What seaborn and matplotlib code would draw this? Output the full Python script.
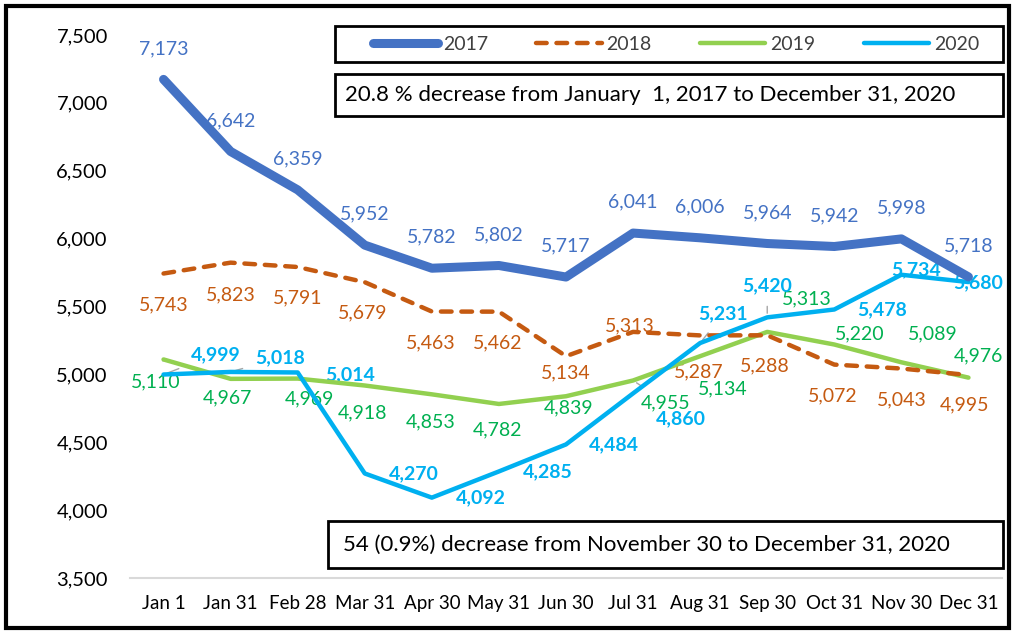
import matplotlib
matplotlib.use("Agg")
import matplotlib.pyplot as plt
from matplotlib.patches import Rectangle
import seaborn as sns

# dates on the x axis
dates = ["Jan 1", "Jan 31", "Feb 28", "Mar 31", "Apr 30", "May 31", "Jun 30",
         "Jul 31", "Aug 31", "Sep 30", "Oct 31", "Nov 30", "Dec 31"]

# values for each year
y2017 = [7173, 6642, 6359, 5952, 5782, 5802, 5717, 6041, 6006, 5964, 5942, 5998, 5718]
y2018 = [5743, 5823, 5791, 5679, 5463, 5462, 5134, 5313, 5287, 5288, 5072, 5043, 4995]
y2019 = [5110, 4967, 4969, 4918, 4853, 4782, 4839, 4955, 5134, 5313, 5220, 5089, 4976]
y2020 = [4999, 5018, 5014, 4270, 4092, 4285, 4484, 4860, 5231, 5420, 5478, 5734, 5680]

note_top = "20.8 % decrease from January  1, 2017 to December 31, 2020"
note_bottom = "54 (0.9%) decrease from November 30 to December 31, 2020"

# label offsets in pixels (dx, dy), dy positive = up
off2017 = [(0, 31)] * 13
off2018 = [(0, -31), (0, -32), (0, -31), (-2, -31), (-1, -31), (-1, -31), (0, -17),
           (-3, 6), (-1, -36), (-2, -31), (-2, -31), (0, -31), (-4, -30)]
off2019 = [(-8, -22), (-3, -19), (12, -20), (-2, -27), (-1, -28), (-1, -26), (3, -12),
           (33, -22), (23, -33), (40, 33), (25, 11), (31, 28), (10, 22)]
off2020 = [(52, 20), (49, 14), (52, -2), (49, 0), (49, 0), (49, 0), (48, 0),
           (48, -25), (23, 29), (0, 32), (48, 0), (15, 5), (10, -1)]
leader2019 = [0, 7]
leader2020 = [0, 1, 8, 9]

font = ["Lato", "DejaVu Sans"]
plt.rcParams["font.family"] = font

fig = plt.figure(figsize=(10.23, 6.33), dpi=100)
ax = fig.add_axes([130 / 1023, 1 - 578 / 633, 872 / 1023, 543 / 633])

xs = list(range(len(dates)))

sns.lineplot(x=xs, y=y2019, ax=ax, color="#92D050", linewidth=3.2, zorder=3)
sns.lineplot(x=xs, y=y2018, ax=ax, color="#C55A11", linewidth=3.2, zorder=4)
ax.lines[-1].set_dashes((2.4, 2.2))
ax.lines[-1].set_dash_capstyle("round")
sns.lineplot(x=xs, y=y2020, ax=ax, color="#00B0F0", linewidth=3.2, zorder=5)
sns.lineplot(x=xs, y=y2017, ax=ax, color="#4472C4", linewidth=6.5, zorder=6)
for ln in ax.lines:
    ln.set_solid_capstyle("round")


def put_labels(vals, offs, color, weight="normal", leaders=()):
    for i, (v, o) in enumerate(zip(vals, offs)):
        arrow = None
        if i in leaders:
            arrow = dict(arrowstyle="-", color="#A6A6A6", lw=1, shrinkA=7, shrinkB=3)
        ax.annotate(f"{v:,}", (i, v), xytext=o, textcoords="offset pixels",
                    ha="center", va="center", color=color, fontsize=14,
                    fontweight=weight, zorder=2, arrowprops=arrow)


put_labels(y2017, off2017, "#4472C4")
put_labels(y2018, off2018, "#C55A11")
put_labels(y2019, off2019, "#00B050", leaders=leader2019)
put_labels(y2020, off2020, "#00B0F0", weight="bold", leaders=leader2020)

ax.set_xlim(-0.5, 12.5)
ax.set_ylim(3500, 7500)
ax.set_yticks(range(3500, 7501, 500))
ax.set_yticklabels([f"{t:,}" for t in range(3500, 7501, 500)])
ax.set_xticks(xs)
ax.set_xticklabels(dates)
ax.tick_params(axis="both", length=0)
ax.tick_params(axis="y", pad=16, labelsize=14.5)
ax.tick_params(axis="x", pad=12, labelsize=13.5)
for s in ["top", "right", "left"]:
    ax.spines[s].set_visible(False)
ax.spines["bottom"].set_color("#D9D9D9")
ax.spines["bottom"].set_linewidth(1.5)
ax.set_xlabel("")
ax.set_ylabel("")

# boxes in figure pixels
W, H = 1023, 633


def box(x0, y0, x1, y1, lw=2):
    fig.patches.append(Rectangle((x0 / W, 1 - y1 / H), (x1 - x0) / W, (y1 - y0) / H,
                                 transform=fig.transFigure, fill=True, facecolor="white",
                                 edgecolor="black", lw=lw, zorder=10))


box(6, 6, 1009, 628, lw=3)
fig.patches[-1].set_fill(False)
box(335, 26, 1003, 62)
box(335, 74, 1003, 116)
box(328, 521, 1003, 568)

handles = [ax.lines[3], ax.lines[1], ax.lines[0], ax.lines[2]]
leg = fig.legend(handles, ["2017", "2018", "2019", "2020"], loc="center",
                 bbox_to_anchor=(676 / W, 1 - 44 / H), ncol=4, frameon=False,
                 fontsize=14, handlelength=3.35, columnspacing=2.5, handletextpad=0.25)
leg.set_zorder(11)
for t in leg.get_texts():
    t.set_color("#404040")

fig.text(345 / W, 1 - 95 / H, note_top, ha="left", va="center", fontsize=16, zorder=11)
fig.text(343 / W, 1 - 545 / H, note_bottom, ha="left", va="center", fontsize=16, zorder=11)

fig.savefig("out.png", dpi=100)
